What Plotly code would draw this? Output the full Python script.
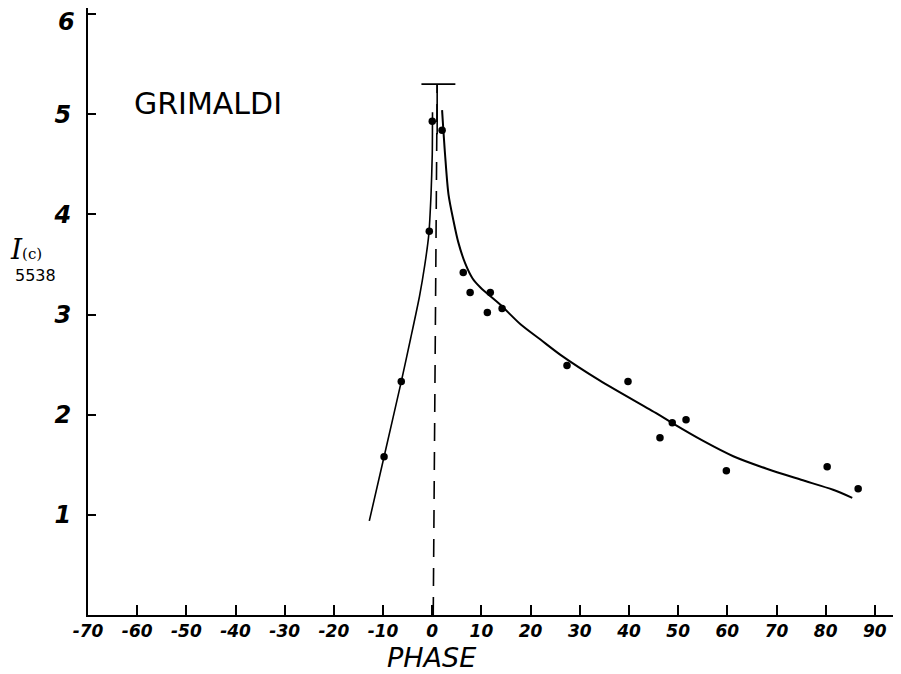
import plotly.graph_objects as go

# Observed points (phase in degrees, intensity)
phase_pts = [-9.8, -6.3, -0.6, 0.0, 2.0, 6.3, 7.7, 11.8, 11.2, 14.2,
             27.4, 39.8, 46.3, 48.8, 51.6, 59.8, 80.3, 86.6]
inten_pts = [1.58, 2.33, 3.83, 4.93, 4.84, 3.42, 3.22, 3.22, 3.02, 3.06,
             2.49, 2.33, 1.77, 1.92, 1.95, 1.44, 1.48, 1.26]

# Drawn curve, pre-opposition branch
left_x = [-12.8, -9.8, -6.3, -4.4, -2.6, -1.5, -0.7, -0.25, 0.0, 0.05]
left_y = [0.94, 1.58, 2.33, 2.76, 3.18, 3.5, 3.8, 4.2, 4.6, 5.02]

# Drawn curve, post-opposition branch
right_x = [2.0, 2.6, 3.3, 4.3, 5.3, 6.7, 8.2, 9.8, 13.8, 18.0, 22.0, 26.0,
           34.1, 45.7, 49.0, 55.0, 61.2, 68.0, 75.0, 81.5, 85.4]
right_y = [5.04, 4.6, 4.2, 3.94, 3.72, 3.51, 3.36, 3.27, 3.1, 2.9, 2.75, 2.6,
           2.34, 2.01, 1.91, 1.74, 1.585, 1.46, 1.35, 1.25, 1.17]

# Opposition marker (dashed vertical with top bar)
opp_x = [0.2, 1.0]
opp_y = [0.0, 5.3]
bar_x = [-2.2, 4.7]
bar_y = [5.3, 5.3]
stem_x = [1.0, 1.0]
stem_y = [5.3, 4.8]

x_ticks = [-70, -60, -50, -40, -30, -20, -10, 0, 10, 20, 30, 40, 50, 60, 70, 80, 90]
x_labels = ["-70", "-60", "-50", "-40", "-30", "-20", "-10", "0", "10", "20",
            "30", "40", "50", "60", "70", "80", "90"]
y_ticks = [1, 2, 3, 4, 5, 6]
y_labels = ["1", "2", "3", "4", "5", ""]
top_label = "6"

# page body adds an 8px offset; plot area in page pixels: left 88, bottom 615
PL, PB, PW, PH = 88, 615, 809, 607


def px(x):
    return (x - PL) / PW


def py(y):
    return (PB - y) / PH


fig = go.Figure()

fig.add_trace(go.Scatter(x=opp_x, y=opp_y, mode="lines",
                         line=dict(color="black", width=1.6, dash="18px,11px"),
                         hoverinfo="skip"))
fig.add_trace(go.Scatter(x=bar_x, y=bar_y, mode="lines",
                         line=dict(color="black", width=1.6), hoverinfo="skip"))
fig.add_trace(go.Scatter(x=stem_x, y=stem_y, mode="lines",
                         line=dict(color="black", width=1.6), hoverinfo="skip"))
fig.add_trace(go.Scatter(x=left_x, y=left_y, mode="lines", line_shape="spline",
                         line=dict(color="black", width=1.6, smoothing=0.6)))
fig.add_trace(go.Scatter(x=right_x, y=right_y, mode="lines", line_shape="spline",
                         line=dict(color="black", width=2, smoothing=0.8)))
fig.add_trace(go.Scatter(x=phase_pts, y=inten_pts, mode="markers",
                         marker=dict(color="black", size=7.5)))

tick_font_y = dict(family="DejaVu Sans", size=24, color="black",
                   style="italic", weight="bold")

fig.update_xaxes(range=[-70, 94.5], tickmode="array", tickvals=x_ticks,
                 ticktext=x_labels, ticks="inside", ticklen=10, tickwidth=1.5,
                 tickcolor="black", showline=True, linecolor="black", linewidth=2,
                 showgrid=False, zeroline=False, automargin=False,
                 ticklabeloverflow="allow",
                 tickfont=dict(family="DejaVu Sans", size=17, color="black",
                               style="italic", weight="bold"))
fig.update_yaxes(range=[0, 6.06], tickmode="array", tickvals=y_ticks,
                 ticktext=y_labels, ticks="inside", ticklen=8, tickwidth=1.5,
                 tickcolor="black", showline=True, linecolor="black", linewidth=2,
                 showgrid=False, zeroline=False, ticklabelstandoff=10,
                 automargin=False, ticklabeloverflow="allow",
                 tickfont=tick_font_y)

fig.add_annotation(text=top_label, xref="paper", yref="paper",
                   x=px(77), y=py(22), xanchor="right", yanchor="middle",
                   showarrow=False, font=tick_font_y)
fig.add_annotation(text="GRIMALDI", xref="paper", yref="paper",
                   x=px(132), y=py(104), xanchor="left",
                   yanchor="middle", showarrow=False,
                   font=dict(family="DejaVu Sans", size=30, color="black"))
fig.add_annotation(text="<i>I</i><span style='font-size:15px'>(c)</span>",
                   xref="paper", yref="paper", x=px(8),
                   y=py(250), xanchor="left", yanchor="middle",
                   showarrow=False,
                   font=dict(family="DejaVu Serif", size=28, color="black"))
fig.add_annotation(text="5538", xref="paper", yref="paper", x=px(13),
                   y=py(275), xanchor="left", yanchor="middle",
                   showarrow=False,
                   font=dict(family="DejaVu Sans", size=16, color="black"))
fig.add_annotation(text="PHASE", xref="paper", yref="paper", x=px(431),
                   y=py(658), xanchor="center", yanchor="middle",
                   showarrow=False,
                   font=dict(family="DejaVu Sans", size=27, color="black",
                             style="italic"))

fig.update_layout(width=893, height=666, showlegend=False,
                  paper_bgcolor="white", plot_bgcolor="white",
                  margin=dict(l=80, r=4, t=0, b=59))

fig.write_html("out.html")
